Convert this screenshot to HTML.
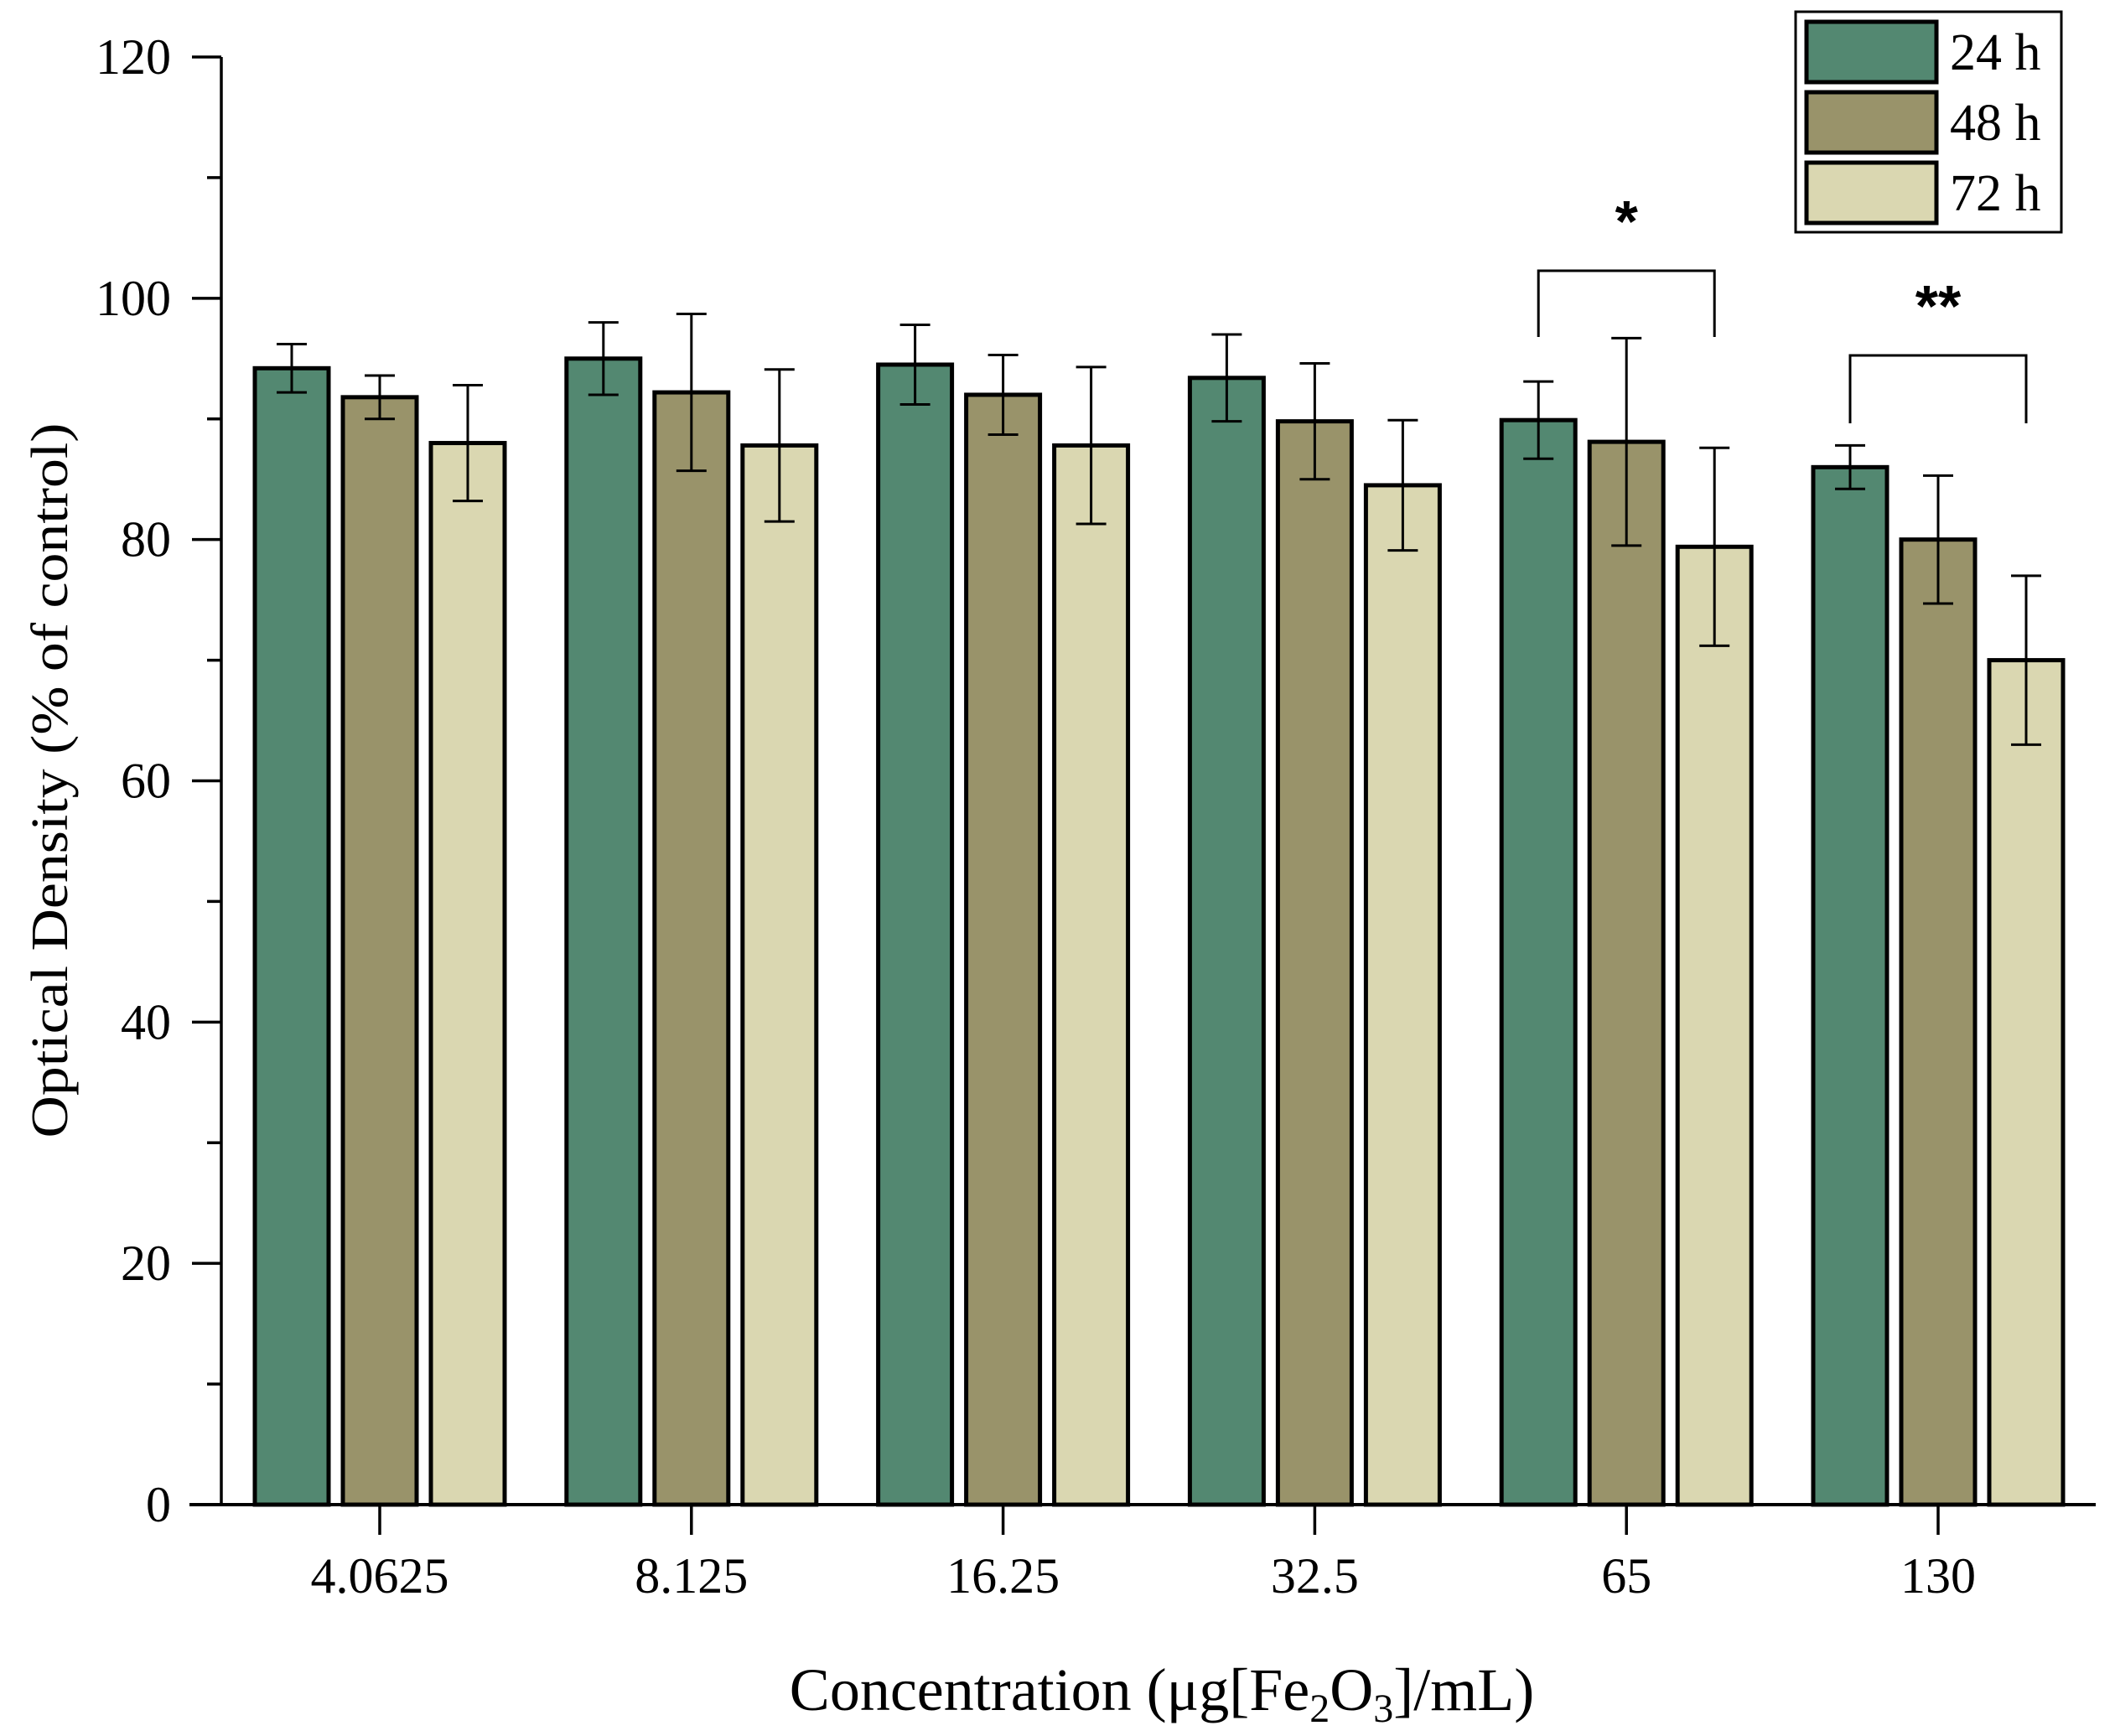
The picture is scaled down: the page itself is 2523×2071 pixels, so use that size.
<!DOCTYPE html>
<html><head><meta charset="utf-8"><style>
html,body{margin:0;padding:0;background:#fff;}
svg{display:block;font-family:"Liberation Serif",serif;}
</style></head><body>
<svg id="chart" width="2523" height="2071" viewBox="0 0 2523 2071" xmlns="http://www.w3.org/2000/svg">
<g id="axes"></g>
<g id="bars"></g>
<g id="sig"></g>
<text transform="translate(80,931) rotate(-90)" text-anchor="middle" font-size="62" textLength="853" lengthAdjust="spacingAndGlyphs">Optical Density (% of control)</text>
<text x="1386" y="2040" text-anchor="middle" font-size="72">Concentration (μg[Fe<tspan font-size="48" dy="14">2</tspan><tspan dy="-14">O</tspan><tspan font-size="48" dy="14">3</tspan><tspan dy="-14">]/mL)</tspan></text>
<g>
<rect x="2142" y="14" width="317" height="263" fill="#fff" stroke="#000" stroke-width="3"/>
<g><rect x="2155" y="26" width="155" height="72" fill="#538871" stroke="#000" stroke-width="5"/><text x="2326" y="83" font-size="62">24 h</text></g>
<g><rect x="2155" y="110" width="155" height="72" fill="#99936a" stroke="#000" stroke-width="5"/><text x="2326" y="167" font-size="62">48 h</text></g>
<g><rect x="2155" y="194" width="155" height="72" fill="#dad7b1" stroke="#000" stroke-width="5"/><text x="2326" y="251" font-size="62">72 h</text></g>
</g>
</svg>
<script>
const categories = ["4.0625","8.125","16.25","32.5","65","130"];
const series24 = [94.2, 95.0, 94.5, 93.4, 89.9, 86.0];
const err24 = [2.0, 3.0, 3.3, 3.6, 3.2, 1.8];
const series48 = [91.8, 92.2, 92.0, 89.8, 88.1, 80.0];
const err48 = [1.8, 6.5, 3.3, 4.8, 8.6, 5.3];
const series72 = [88.0, 87.8, 87.8, 84.5, 79.4, 70.0];
const err72 = [4.8, 6.3, 6.5, 5.4, 8.2, 7.0];
const yTicks = [0, 20, 40, 60, 80, 100, 120];
const seriesNames = ["24h","48h","72h"];
const colors = ["#538871","#99936a","#dad7b1"];

const NS = "http://www.w3.org/2000/svg";
const y0 = 1795, y120 = 68, yMax = 120;
function yScale(v){ return y0 - (v / yMax) * (y0 - y120); }
const xFirst = 453, xStep = 371.8;
function xScale(i){ return xFirst + i * xStep; }
const barW = 88, barOff = 105;
function mk(tag, attrs, parent){ const e = document.createElementNS(NS, tag); for (const k in attrs) e.setAttribute(k, attrs[k]); parent.appendChild(e); return e; }

const axes = document.getElementById('axes');
const barsG = document.getElementById('bars');
let l = mk('line', {x1:264, y1:y120, x2:264, y2:y0, stroke:'#000', 'stroke-width':3.5}, axes);


for (let v = 0; v <= yMax; v += 10) {
  const major = v % 20 === 0;
  const t = mk('line', {x1: major ? 229 : 247, y1: yScale(v), x2: 264, y2: yScale(v), stroke:'#000', 'stroke-width':3.5}, axes);
  
  
}
yTicks.forEach(v => {
  const t = mk('text', {x:204, y: yScale(v) + 20, 'text-anchor':'end', 'font-size':60}, axes);
  t.textContent = String(v);
  
  
});
const vals = [series24, series48, series72];
const errs = [err24, err48, err72];
categories.forEach((c, i) => {
  vals.forEach((s, k) => {
    const cx = xScale(i) + (k - 1) * barOff;
    const r = mk('rect', {x: cx - barW/2, y: yScale(s[i]), width: barW, height: y0 - yScale(s[i]), fill: colors[k], stroke:'#000', 'stroke-width':5}, barsG);
    
    
    const e = errs[k][i];
    const g = mk('g', {stroke:'#000', 'stroke-width':3}, barsG);
    
    
    mk('line', {x1: cx, y1: yScale(s[i] + e), x2: cx, y2: yScale(s[i] - e)}, g);
    mk('line', {x1: cx - 18, y1: yScale(s[i] + e), x2: cx + 18, y2: yScale(s[i] + e)}, g);
    mk('line', {x1: cx - 18, y1: yScale(s[i] - e), x2: cx + 18, y2: yScale(s[i] - e)}, g);
  });
  const t = mk('line', {x1: xScale(i), y1: y0, x2: xScale(i), y2: y0 + 36, stroke:'#000', 'stroke-width':3.5}, axes);
  
  
  const lab = mk('text', {x: xScale(i), y: 1900, 'text-anchor':'middle', 'font-size':60}, axes);
  lab.textContent = c;
  
  
});
let xl = mk('line', {x1:226, y1:y0, x2:2500, y2:y0, stroke:'#000', 'stroke-width':4}, barsG);


const sig = document.getElementById('sig');
function bracket(i, topY, botY, label, name){
  const g = mk('g', {}, sig);
  
  
  const x1 = xScale(i) - 105, x2 = xScale(i) + 105;
  mk('polyline', {points: x1+','+botY+' '+x1+','+topY+' '+x2+','+topY+' '+x2+','+botY, fill:'none', stroke:'#000', 'stroke-width':3}, g);
  const t = mk('text', {x: xScale(i), y: topY - 35, 'text-anchor':'middle', 'font-size':70, 'font-weight':'bold', 'font-family':'Liberation Sans, sans-serif'}, g);
  t.textContent = label;
}
bracket(4, 323, 402, '*', 'significance-65');
bracket(5, 424, 505, '**', 'significance-130');
</script>
</body></html>
